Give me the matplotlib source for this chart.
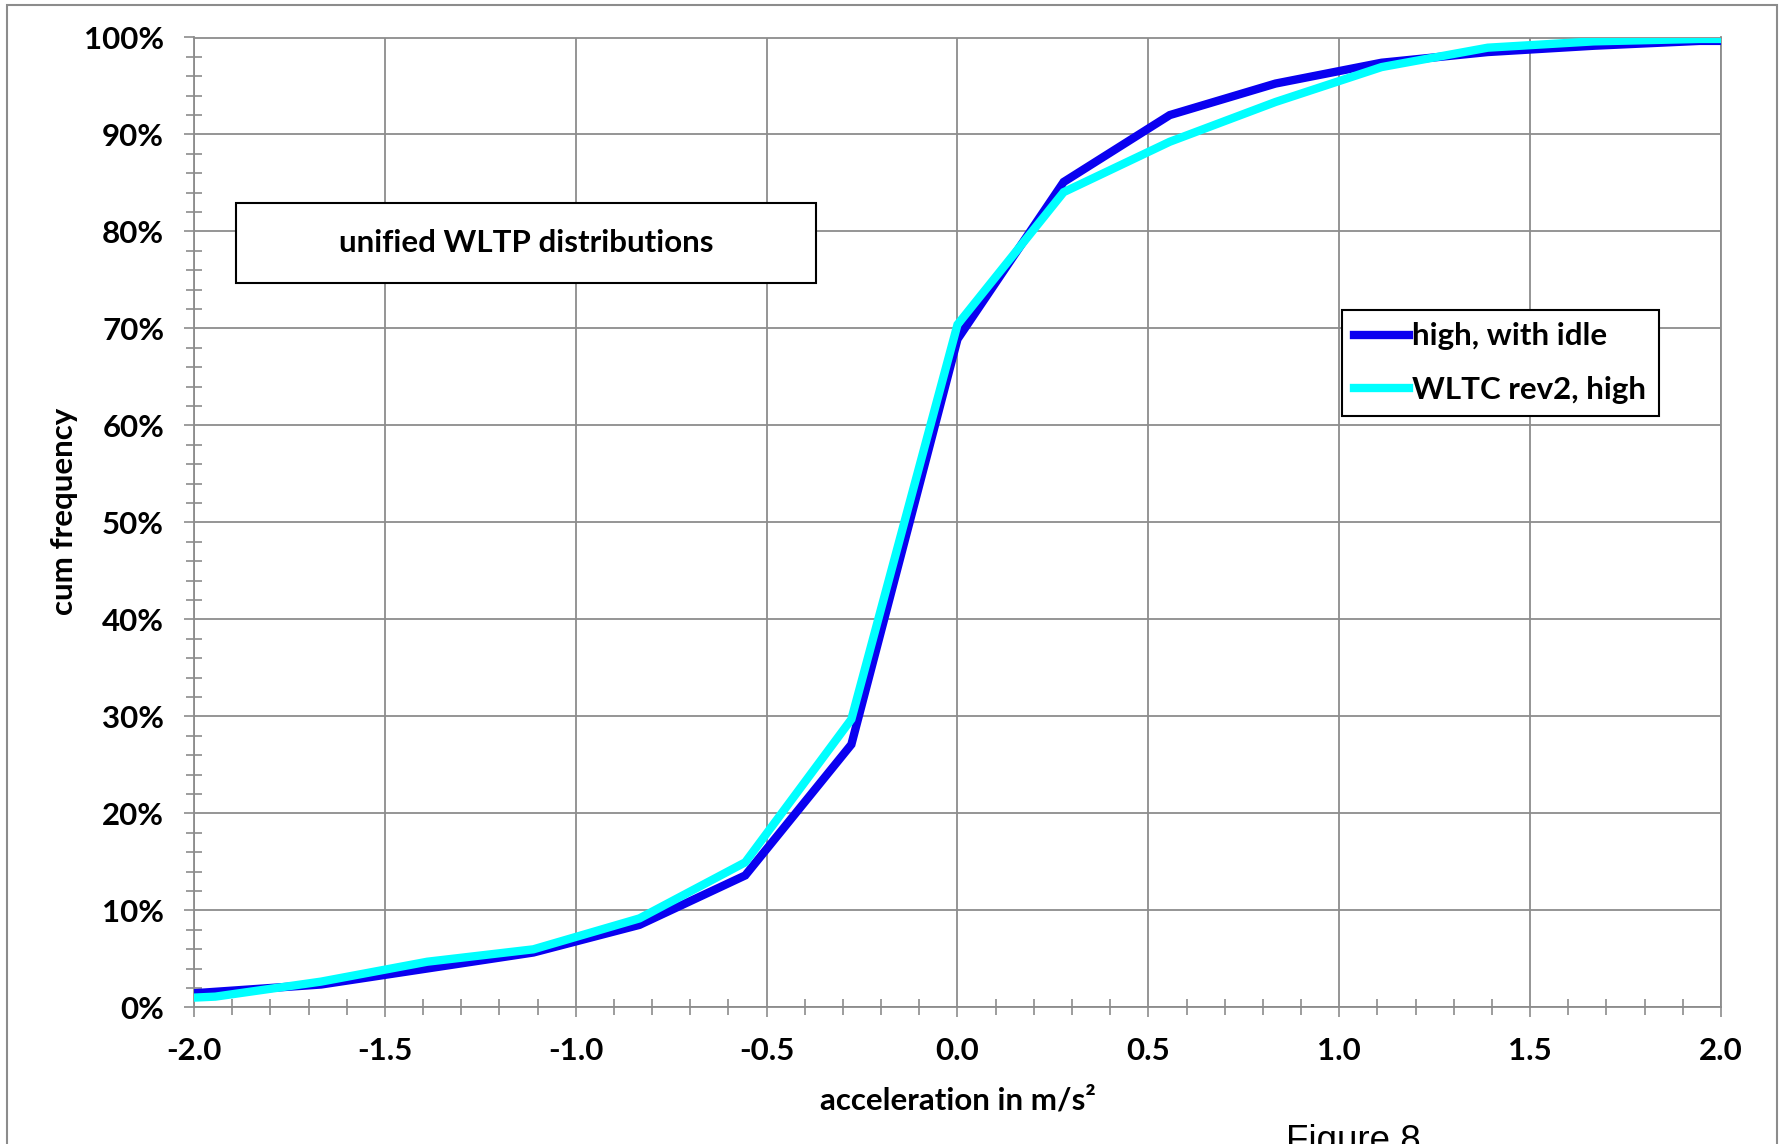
import matplotlib
matplotlib.use("Agg")
import matplotlib.pyplot as plt
from matplotlib.ticker import MultipleLocator, PercentFormatter
from matplotlib.patches import Rectangle

# ---- data (cumulative frequency in %) ----
accel = [-2.0, -1.944, -1.667, -1.389, -1.111, -0.833, -0.556, -0.278, 0.0,
         0.278, 0.556, 0.833, 1.111, 1.389, 1.667, 1.944, 2.0]
high_with_idle = [1.45, 1.6, 2.35, 4.0, 5.65, 8.5, 13.6, 27.1, 68.9,
                  85.1, 92.0, 95.25, 97.4, 98.5, 99.15, 99.65, 99.65]
wltc_rev2_high = [1.0, 1.1, 2.65, 4.7, 5.98, 9.17, 14.95, 29.7, 70.4,
                  84.05, 89.25, 93.35, 96.95, 98.95, 99.6, 99.85, 99.85]
series_labels = ["high, with idle", "WLTC rev2, high"]
x_ticks = [-2.0, -1.5, -1.0, -0.5, 0.0, 0.5, 1.0, 1.5, 2.0]
title_text = "unified WLTP distributions"
xlabel_text = "acceleration in m/s²"
ylabel_text = "cum frequency"
caption_text = "Figure 8"

W, H = 1783, 1144
fig = plt.figure(figsize=(W / 100, H / 100), dpi=100)
fig.patch.set_facecolor("white")

ax_l, ax_r, ax_t, ax_b = 194, 1721, 37.5, 1007.3
ax = fig.add_axes([ax_l / W, 1 - ax_b / H, (ax_r - ax_l) / W, (ax_b - ax_t) / H])

FONT = "Lato"
FS = 22.5
grid_c = "#8c8c8c"

ax.plot(accel, high_with_idle, color="#0A00F0", lw=6, label=series_labels[0],
        solid_joinstyle="miter", zorder=3)
ax.plot(accel, wltc_rev2_high, color="#00FFFF", lw=6, label=series_labels[1],
        solid_joinstyle="miter", zorder=4)

ax.set_xlim(-2.0, 2.0)
ax.set_ylim(0, 100)
ax.set_xticks(x_ticks)
ax.set_xticklabels([f"{v:.1f}" for v in x_ticks])
ax.xaxis.set_minor_locator(MultipleLocator(0.1))
ax.yaxis.set_major_locator(MultipleLocator(10))
ax.yaxis.set_minor_locator(MultipleLocator(2))
ax.yaxis.set_major_formatter(PercentFormatter(decimals=0))

ax.grid(True, which="major", color=grid_c, lw=1.3, zorder=0)
ax.set_axisbelow(True)
for s in ax.spines.values():
    s.set_color(grid_c)
    s.set_linewidth(1.3)

ax.tick_params(which="major", direction="out", length=7.5, width=1.2, color=grid_c,
               labelsize=FS)
ax.tick_params(axis="x", which="major", pad=14)
ax.tick_params(axis="y", which="major", pad=14)
ax.tick_params(which="minor", direction="inout", length=12, width=1.2, color=grid_c)
for lab in ax.get_xticklabels() + ax.get_yticklabels():
    lab.set_fontfamily(FONT)
    lab.set_fontweight("bold")

ax.set_xlabel(xlabel_text, fontsize=FS, fontweight="bold", family=FONT, va="center")
ax.xaxis.set_label_coords(0.5, -0.096)
ax.set_ylabel(ylabel_text, fontsize=FS, fontweight="bold", family=FONT, va="center")
ax.yaxis.set_label_coords(-0.085, 0.511)

# annotation box
bx0, bx1 = (236 - ax_l) / (ax_r - ax_l), (816 - ax_l) / (ax_r - ax_l)
by0, by1 = (ax_b - 283) / (ax_b - ax_t), (ax_b - 202.7) / (ax_b - ax_t)
ax.add_patch(Rectangle((bx0, by0), bx1 - bx0, by1 - by0, transform=ax.transAxes,
                       facecolor="white", edgecolor="black", lw=1.5, zorder=5))
ax.text((bx0 + bx1) / 2, (by0 + by1) / 2, title_text, transform=ax.transAxes,
        ha="center", va="center", fontsize=FS, fontweight="bold", family=FONT, zorder=6)

# legend
leg = ax.legend(loc="upper left",
                bbox_to_anchor=((1341.7 - ax_l) / (ax_r - ax_l), (ax_b - 310) / (ax_b - ax_t)),
                borderaxespad=0, fancybox=False, framealpha=1, edgecolor="black",
                prop={"family": FONT, "weight": "bold", "size": FS},
                handlelength=1.75, handletextpad=0.1, labelspacing=0.8, borderpad=0.4)
leg.get_frame().set_linewidth(1.5)
leg.set_zorder(7)

# outer border
fig.add_artist(Rectangle((7 / W, -0.05), (1777 - 7) / W, 1 - 4.7 / H + 0.05,
                         transform=fig.transFigure, facecolor="none",
                         edgecolor="#8c8c8c", lw=1.5))

fig.text(1286 / W, 1 - 1151 / H, caption_text, family="Liberation Sans",
         fontsize=26.5, ha="left", va="baseline")

fig.savefig("out.png", dpi=100)
